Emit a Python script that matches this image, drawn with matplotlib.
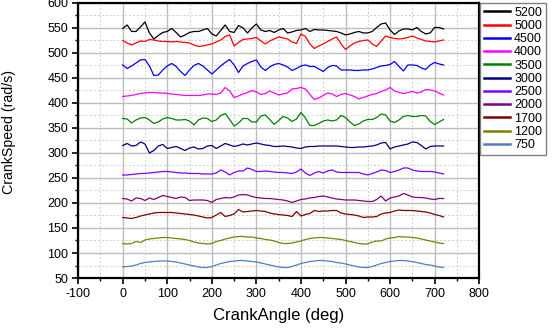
import matplotlib
matplotlib.use("Agg")
import matplotlib.pyplot as plt
from matplotlib.ticker import MultipleLocator

plt.rcParams['font.family'] = ['Liberation Sans', 'DejaVu Sans']
plt.rcParams['axes.unicode_minus'] = False

# crank angle samples (deg)
crank_angle = list(range(0, 730, 10))

speed_5200 = [549, 556, 543, 543, 552, 562, 540, 528, 535, 541, 543, 549, 541, 532, 536, 541, 543, 543, 546, 549,
              538, 534, 545, 556, 543, 541, 555, 550, 540, 550, 558, 546, 543, 545, 541, 546, 549, 540, 542, 545,
              546, 549, 543, 547, 546, 546, 545, 544, 543, 540, 536, 538, 541, 543, 540, 540, 543, 551, 558, 560,
              546, 537, 544, 548, 548, 546, 551, 543, 538, 540, 551, 551, 548]
speed_5000 = [525, 520, 516, 520, 524, 523, 527, 526, 524, 523, 523, 522, 523, 522, 521, 520, 516, 513, 514, 516,
              518, 522, 526, 533, 536, 514, 521, 527, 528, 529, 531, 524, 518, 524, 528, 532, 530, 528, 522, 519,
              538, 533, 518, 509, 514, 518, 523, 528, 532, 518, 507, 514, 520, 523, 525, 526, 518, 513, 524, 534,
              531, 529, 528, 529, 531, 534, 530, 527, 524, 523, 522, 524, 526]
speed_4500 = [476, 469, 474, 480, 486, 487, 474, 455, 456, 466, 474, 479, 473, 463, 455, 466, 475, 479, 474, 466,
              458, 466, 474, 481, 487, 476, 461, 474, 479, 483, 486, 472, 465, 472, 477, 479, 476, 472, 465, 469,
              474, 476, 473, 473, 468, 463, 471, 475, 474, 466, 466, 466, 465, 465, 466, 466, 468, 471, 474, 475,
              477, 483, 473, 464, 476, 476, 475, 470, 467, 476, 481, 478, 476]
speed_4000 = [413, 414, 415, 417, 419, 420, 421, 421, 420, 420, 419, 418, 417, 416, 415, 415, 415, 415, 416, 418,
              418, 417, 420, 431, 424, 411, 414, 418, 421, 425, 422, 417, 419, 424, 420, 416, 418, 420, 428, 429,
              431, 428, 417, 407, 410, 415, 420, 418, 413, 417, 419, 416, 413, 408, 411, 414, 417, 419, 423, 426,
              431, 424, 421, 419, 421, 423, 420, 422, 427, 426, 424, 420, 416]
speed_3500 = [369, 368, 360, 366, 370, 371, 366, 359, 362, 368, 371, 369, 366, 366, 367, 364, 356, 366, 370, 369,
              363, 366, 375, 379, 367, 354, 360, 369, 369, 362, 362, 374, 376, 367, 357, 365, 373, 370, 363, 368,
              381, 370, 355, 355, 359, 364, 366, 364, 366, 375, 371, 362, 355, 358, 364, 367, 367, 371, 378, 376,
              364, 361, 366, 373, 375, 373, 373, 375, 374, 363, 357, 362, 367]
speed_3000 = [315, 319, 314, 315, 322, 318, 300, 305, 314, 317, 309, 311, 313, 309, 305, 310, 312, 308, 309, 314,
              315, 309, 314, 319, 316, 313, 315, 318, 316, 318, 320, 318, 316, 315, 313, 313, 314, 313, 312, 310,
              309, 312, 313, 313, 314, 314, 314, 314, 314, 313, 312, 311, 311, 312, 312, 313, 314, 316, 320, 321,
              308, 312, 314, 316, 318, 322, 321, 315, 308, 313, 314, 314, 314]
speed_2500 = [256, 256, 257, 258, 259, 259, 260, 261, 262, 263, 263, 262, 261, 260, 260, 259, 259, 259, 258, 258,
              258, 260, 266, 262, 256, 261, 264, 264, 270, 267, 263, 263, 264, 263, 262, 261, 261, 260, 259, 262,
              268, 260, 255, 260, 263, 260, 264, 266, 262, 261, 261, 261, 261, 261, 258, 256, 259, 262, 266, 265,
              261, 263, 266, 270, 270, 266, 264, 263, 263, 263, 262, 260, 258]
speed_2000 = [209, 208, 204, 210, 209, 205, 210, 207, 211, 215, 213, 211, 209, 212, 211, 205, 206, 206, 206, 205,
              201, 207, 209, 211, 210, 212, 216, 217, 216, 213, 211, 210, 209, 209, 208, 207, 206, 204, 201, 204,
              207, 208, 210, 211, 213, 214, 212, 210, 208, 207, 206, 206, 206, 205, 204, 203, 203, 207, 214, 204,
              210, 212, 214, 219, 216, 212, 211, 211, 210, 208, 207, 209, 209]
speed_1700 = [171, 170, 169, 171, 174, 176, 178, 180, 181, 181, 181, 181, 180, 179, 178, 177, 176, 174, 172, 170,
              171, 176, 181, 173, 175, 178, 187, 182, 183, 184, 185, 184, 183, 180, 178, 177, 176, 175, 173, 183,
              174, 177, 179, 185, 183, 184, 184, 185, 185, 180, 178, 177, 176, 174, 171, 172, 172, 173, 178, 180,
              181, 184, 186, 185, 185, 185, 184, 183, 182, 180, 177, 175, 172]
speed_1200 = [119, 118, 119, 123, 121, 126, 128, 129, 130, 131, 131, 130, 129, 128, 127, 125, 122, 120, 119, 118,
              119, 123, 125, 128, 130, 132, 133, 133, 132, 132, 130, 129, 127, 126, 124, 121, 119, 119, 120, 122,
              124, 127, 129, 130, 131, 131, 130, 129, 128, 127, 125, 123, 121, 119, 118, 118, 122, 124, 124, 128,
              130, 131, 133, 132, 132, 131, 130, 128, 126, 124, 122, 120, 119]
speed_750 = [72, 73, 74, 76, 79, 81, 82, 83, 84, 84, 84, 83, 82, 80, 78, 76, 74, 72, 71, 71,
             73, 76, 79, 81, 83, 84, 85, 85, 84, 83, 82, 80, 78, 76, 74, 72, 71, 71, 73, 76,
             79, 81, 83, 84, 85, 85, 84, 83, 81, 80, 78, 76, 74, 72, 71, 71, 73, 76, 79, 81,
             83, 84, 85, 85, 84, 83, 81, 79, 77, 76, 74, 72, 71]

rpm_labels = ['5200', '5000', '4500', '4000', '3500', '3000', '2500', '2000', '1700', '1200', '750']
series = [speed_5200, speed_5000, speed_4500, speed_4000, speed_3500, speed_3000,
          speed_2500, speed_2000, speed_1700, speed_1200, speed_750]
colors = ['#000000', '#FF0000', '#0000FF', '#FF00FF', '#008000', '#000080',
          '#8000FF', '#800080', '#800000', '#808000', '#4F7FBF']

fig = plt.figure(figsize=(5.54, 3.29), dpi=100)
ax = fig.add_axes([0.141, 0.155, 0.724, 0.836])

for vals, lab, col in zip(series, rpm_labels, colors):
    ax.plot(crank_angle, vals, color=col, lw=0.9, label=lab)

ax.set_xlim(-100, 800)
ax.set_ylim(50, 600)
ax.xaxis.set_major_locator(MultipleLocator(100))
ax.xaxis.set_minor_locator(MultipleLocator(50))
ax.yaxis.set_major_locator(MultipleLocator(50))
ax.yaxis.set_minor_locator(MultipleLocator(25))

ax.grid(which='major', color='#BDBDBD', lw=1.0, ls='-')
ax.grid(which='minor', color='#D0D0D0', lw=0.7, ls=(0, (2, 2)))
ax.set_axisbelow(True)

for s in ax.spines.values():
    s.set_linewidth(1.6)
ax.tick_params(which='major', direction='out', length=4, width=1.2, labelsize=9, pad=3)
ax.tick_params(which='minor', direction='out', length=2.5, width=1.0)

ax.set_xlabel('CrankAngle (deg)', fontsize=12, labelpad=6)
ax.set_ylabel('CrankSpeed (rad/s)', fontsize=10.2)
ax.yaxis.set_label_coords(-0.155, 0.531)

leg = fig.legend(loc='upper left', bbox_to_anchor=(0.866, 0.991), fontsize=9,
                 frameon=True, fancybox=False, edgecolor='#808080', framealpha=1,
                 handlelength=2.1, handletextpad=0.35, labelspacing=0.1,
                 borderpad=0.3, borderaxespad=0)
leg.get_frame().set_linewidth(1.0)
for h in leg.get_lines():
    h.set_linewidth(1.8)

fig.savefig('out.png', dpi=100)
